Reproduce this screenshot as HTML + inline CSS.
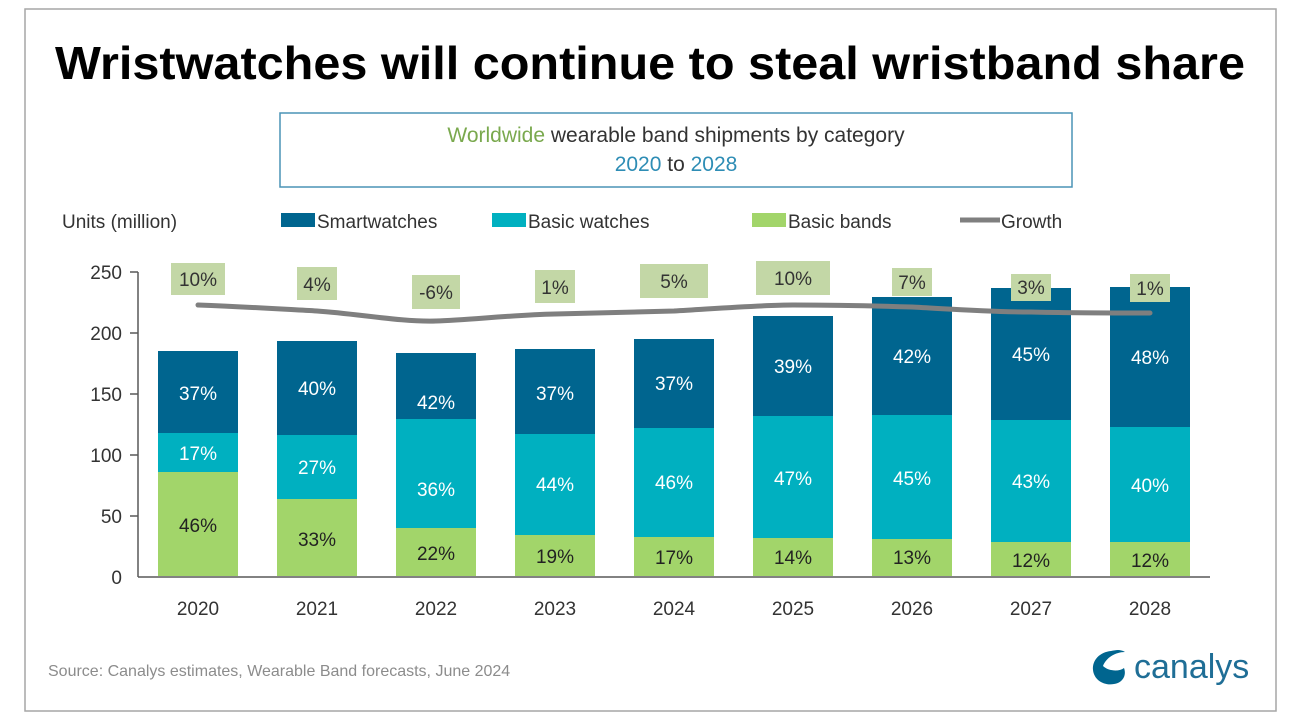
<!DOCTYPE html>
<html><head><meta charset="utf-8"><style>
html,body{margin:0;padding:0;background:#fff}
svg{display:block;font-family:"Liberation Sans","DejaVu Sans",sans-serif}
</style></head><body>
<svg width="1292" height="724" viewBox="0 0 1292 724" xmlns="http://www.w3.org/2000/svg">
<rect x="0" y="0" width="1292" height="724" fill="#fff"/>
<rect x="25" y="9" width="1251" height="702" fill="#fff" stroke="#a6a6a6" stroke-width="1.5"/>
<text x="55" y="79" font-size="46" font-weight="bold" fill="#000" textLength="1190" lengthAdjust="spacingAndGlyphs">Wristwatches will continue to steal wristband share</text>
<rect x="280" y="113" width="792" height="74" fill="#fff" stroke="#4a93b5" stroke-width="1.5"/>
<text x="676" y="142" text-anchor="middle" font-size="21" fill="#333"><tspan fill="#7aa94e">Worldwide</tspan> wearable band shipments by category</text>
<text x="676" y="171" text-anchor="middle" font-size="21" fill="#333"><tspan fill="#2e8db5">2020</tspan> to <tspan fill="#2e8db5">2028</tspan></text>
<text x="62" y="228" font-size="19" fill="#333">Units (million)</text>
<rect x="281" y="213" width="34" height="14" fill="#00658f"/><text x="317" y="228" font-size="19" fill="#333">Smartwatches</text>
<rect x="492" y="213" width="34" height="14" fill="#00b0c0"/><text x="528" y="228" font-size="19" fill="#333">Basic watches</text>
<rect x="752" y="213" width="34" height="14" fill="#a2d56a"/><text x="788" y="228" font-size="19" fill="#333">Basic bands</text>
<line x1="960" y1="220" x2="1000" y2="220" stroke="#7f7f7f" stroke-width="5"/><text x="1001" y="228" font-size="19" fill="#333">Growth</text>
<g stroke="#595959" stroke-width="1.5">
<line x1="138" y1="272" x2="138" y2="577"/>
<line x1="130" y1="272" x2="138" y2="272"/><line x1="130" y1="333" x2="138" y2="333"/><line x1="130" y1="394" x2="138" y2="394"/><line x1="130" y1="455" x2="138" y2="455"/><line x1="130" y1="516" x2="138" y2="516"/>
<line x1="138" y1="577" x2="1210" y2="577"/>
</g>
<g font-size="19" fill="#333" text-anchor="end">
<text x="122" y="279">250</text><text x="122" y="340">200</text><text x="122" y="401">150</text><text x="122" y="462">100</text><text x="122" y="523">50</text><text x="122" y="584">0</text>
</g>
<g font-size="19" text-anchor="middle">
<g transform="translate(158,0)"><rect y="351" width="80" height="82" fill="#00658f"/><rect y="433" width="80" height="39" fill="#00b0c0"/><rect y="472" width="80" height="104" fill="#a2d56a"/>
<text x="40" y="400" fill="#fff">37%</text><text x="40" y="460" fill="#fff">17%</text><text x="40" y="532" fill="#222">46%</text></g>
<g transform="translate(277,0)"><rect y="341" width="80" height="94" fill="#00658f"/><rect y="435" width="80" height="64" fill="#00b0c0"/><rect y="499" width="80" height="77" fill="#a2d56a"/>
<text x="40" y="395" fill="#fff">40%</text><text x="40" y="474" fill="#fff">27%</text><text x="40" y="546" fill="#222">33%</text></g>
<g transform="translate(396,0)"><rect y="353" width="80" height="66" fill="#00658f"/><rect y="419" width="80" height="109" fill="#00b0c0"/><rect y="528" width="80" height="48" fill="#a2d56a"/>
<text x="40" y="409" fill="#fff">42%</text><text x="40" y="496" fill="#fff">36%</text><text x="40" y="560" fill="#222">22%</text></g>
<g transform="translate(515,0)"><rect y="349" width="80" height="85" fill="#00658f"/><rect y="434" width="80" height="101" fill="#00b0c0"/><rect y="535" width="80" height="41" fill="#a2d56a"/>
<text x="40" y="400" fill="#fff">37%</text><text x="40" y="491" fill="#fff">44%</text><text x="40" y="563" fill="#222">19%</text></g>
<g transform="translate(634,0)"><rect y="339" width="80" height="89" fill="#00658f"/><rect y="428" width="80" height="109" fill="#00b0c0"/><rect y="537" width="80" height="39" fill="#a2d56a"/>
<text x="40" y="390" fill="#fff">37%</text><text x="40" y="489" fill="#fff">46%</text><text x="40" y="564" fill="#222">17%</text></g>
<g transform="translate(753,0)"><rect y="316" width="80" height="100" fill="#00658f"/><rect y="416" width="80" height="122" fill="#00b0c0"/><rect y="538" width="80" height="38" fill="#a2d56a"/>
<text x="40" y="373" fill="#fff">39%</text><text x="40" y="485" fill="#fff">47%</text><text x="40" y="564" fill="#222">14%</text></g>
<g transform="translate(872,0)"><rect y="297" width="80" height="118" fill="#00658f"/><rect y="415" width="80" height="124" fill="#00b0c0"/><rect y="539" width="80" height="37" fill="#a2d56a"/>
<text x="40" y="363" fill="#fff">42%</text><text x="40" y="485" fill="#fff">45%</text><text x="40" y="564" fill="#222">13%</text></g>
<g transform="translate(991,0)"><rect y="288" width="80" height="132" fill="#00658f"/><rect y="420" width="80" height="122" fill="#00b0c0"/><rect y="542" width="80" height="34" fill="#a2d56a"/>
<text x="40" y="361" fill="#fff">45%</text><text x="40" y="488" fill="#fff">43%</text><text x="40" y="567" fill="#222">12%</text></g>
<g transform="translate(1110,0)"><rect y="287" width="80" height="140" fill="#00658f"/><rect y="427" width="80" height="115" fill="#00b0c0"/><rect y="542" width="80" height="34" fill="#a2d56a"/>
<text x="40" y="364" fill="#fff">48%</text><text x="40" y="492" fill="#fff">40%</text><text x="40" y="567" fill="#222">12%</text></g>
</g>
<path d="M198,305 C250,307 280,309 317,311 C360,314 400,322 436,321 C470,320 510,315 555,314 C600,313 640,312 674,311 C710,309 760,305 793,305 C830,305 880,306 912,307 C950,309 990,312 1031,312 C1070,313 1110,313 1150,313" fill="none" stroke="#7f7f7f" stroke-width="5" stroke-linecap="round"/>
<g font-size="19" fill="#333" text-anchor="middle">
<rect x="171" y="263" width="54" height="32" fill="#c3d7a6"/><text x="198" y="286">10%</text>
<rect x="297" y="267" width="40" height="33" fill="#c3d7a6"/><text x="317" y="291">4%</text>
<rect x="412" y="275" width="48" height="34" fill="#c3d7a6"/><text x="436" y="299">-6%</text>
<rect x="535" y="270" width="40" height="33" fill="#c3d7a6"/><text x="555" y="294">1%</text>
<rect x="640" y="264" width="68" height="34" fill="#c3d7a6"/><text x="674" y="288">5%</text>
<rect x="756" y="261" width="74" height="34" fill="#c3d7a6"/><text x="793" y="285">10%</text>
<rect x="892" y="268" width="40" height="28" fill="#c3d7a6"/><text x="912" y="289">7%</text>
<rect x="1011" y="274" width="40" height="27" fill="#c3d7a6"/><text x="1031" y="294">3%</text>
<rect x="1130" y="274" width="40" height="28" fill="#c3d7a6"/><text x="1150" y="295">1%</text>
</g>
<g font-size="19" fill="#333" text-anchor="middle">
<text x="198" y="615">2020</text><text x="317" y="615">2021</text><text x="436" y="615">2022</text><text x="555" y="615">2023</text><text x="674" y="615">2024</text><text x="793" y="615">2025</text><text x="912" y="615">2026</text><text x="1031" y="615">2027</text><text x="1150" y="615">2028</text>
</g>
<text x="48" y="676" font-size="16" fill="#8c8c8c">Source:  Canalys estimates, Wearable Band forecasts, June 2024</text>
<g>
<path d="M1111,651 C1100,652 1092,660 1093,670 C1094,680 1104,686 1114,684 C1122,683 1127,676 1124,668 C1119,672 1108,671 1103,666 C1106,658 1115,652 1125,652 C1120,649 1116,650 1111,651 Z" fill="#00658f"/>
<text x="1134" y="678" font-size="34" fill="#1f6e96">canalys</text>
</g>
</svg>
</body></html>
